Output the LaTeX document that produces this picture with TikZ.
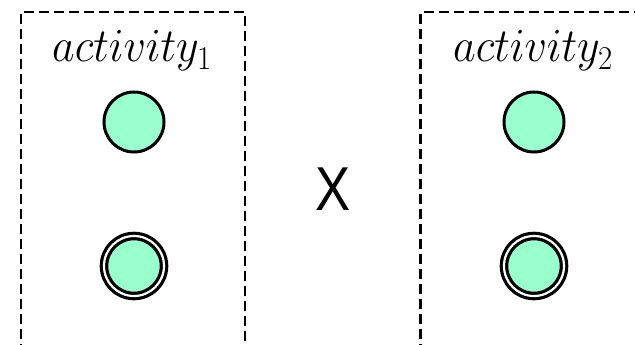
\RequirePackage{fix-cm}
\documentclass[tikz,border=0pt]{standalone}
\usepackage{fontspec}
\usepackage{tikz}
\usepackage{xcolor}
\newfontfamily\crossfont{Liberation Sans}
\usetikzlibrary{positioning}
\definecolor{mint}{HTML}{99FFCC}

\begin{document}
\begin{tikzpicture}[
    x=1pt, y=-1pt,
    node distance=173pt,
    lane/.style={rectangle, draw, dash pattern=on 10pt off 5pt, line width=2.5pt, minimum width=224pt, minimum height=360pt, inner sep=0pt, anchor=north},
    title/.style={font=\fontsize{44}{50}\selectfont, inner sep=0pt, anchor=base, yscale=1.08},
    state/.style={circle, draw, fill=mint, line width=3pt, minimum size=60pt, inner sep=0pt},
    final/.style={state, line width=3.2pt, double=white, double distance=2.2pt},
    cross/.style={font=\crossfont\fontsize{62}{64}\selectfont, xscale=0.85, inner sep=0pt}
]
\path[use as bounding box, clip] (0,0) rectangle (635,345);

% First activity
\node[lane] (act1) at (133,11) {};
\node[title] (t1) at (132,62) {$activity_1$};
\node[state] (i1) at (134,122) {};
\node[final] (f1) at (134,266) {};

% Second activity
\node[lane, right=of act1.north east, anchor=north west] (act2) {};
\node[title] (t2) at (533,62) {$activity_2$};
\node[state] (i2) at (534,122) {};
\node[final] (f2) at (534,266) {};

% Product
\node[cross] (x) at (333,189) {X};

\end{tikzpicture}
\end{document}
